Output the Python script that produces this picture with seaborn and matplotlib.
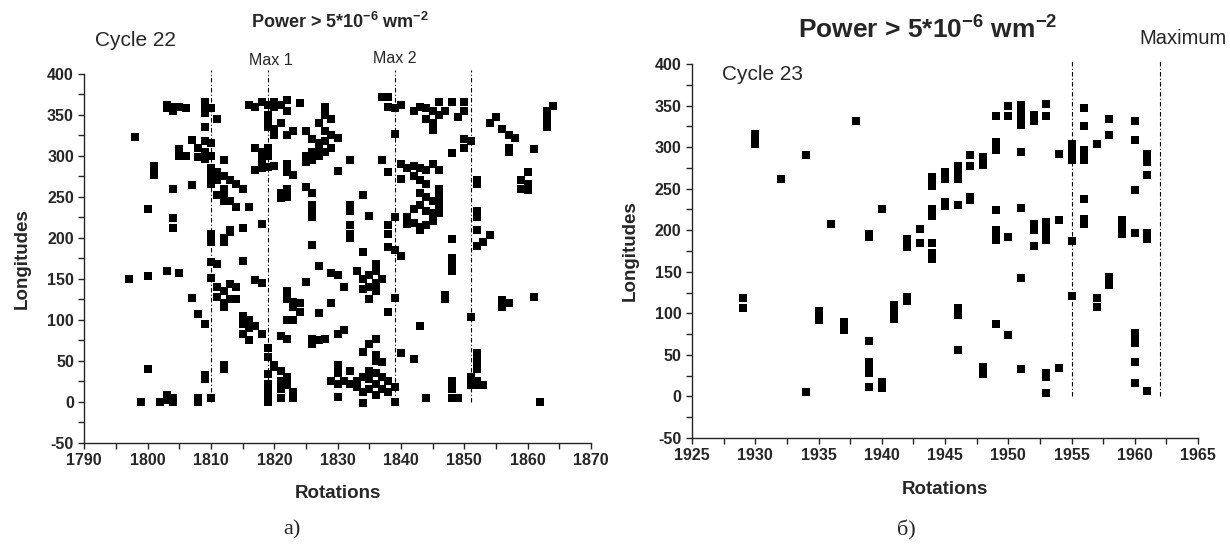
import numpy as np
import pandas as pd
import matplotlib
matplotlib.use('Agg')
import matplotlib.pyplot as plt
import seaborn as sns
from matplotlib.ticker import MultipleLocator

# Cycle 22: rotation numbers and the longitudes of the active points in each rotation
rot22 = [1797, 1798, 1799, 1800, 1801, 1802, 1803, 1804, 1805, 1806,
         1807, 1808, 1809, 1810, 1811, 1812, 1813, 1814, 1815, 1816,
         1817, 1818, 1819, 1820, 1821, 1822, 1823, 1824, 1825, 1826,
         1827, 1828, 1829, 1830, 1831, 1832, 1833, 1834, 1835, 1836,
         1837, 1838, 1839, 1840, 1841, 1842, 1843, 1844, 1845, 1846,
         1847, 1848, 1849, 1850, 1851, 1852, 1853, 1854, 1855, 1856,
         1857, 1858, 1859, 1860, 1861, 1862, 1863, 1864]
lon22 = [[150], [323], [0], [235, 153, 40], [287, 280, 276], [0],
         [362, 358, 160, 8, 2], [360, 355, 260, 224, 212, 5, 0],
         [360, 308, 300, 157], [358, 300], [319, 264, 127],
         [310, 298, 107, 5, 0],
         [365, 357, 352, 335, 318, 305, 296, 95, 32, 28],
         [358, 315, 300, 285, 275, 265, 205, 200, 195, 170, 151, 5],
         [345, 280, 270, 252, 168, 140, 128],
         [295, 275, 260, 250, 245, 200, 195, 135, 120, 115, 45, 40],
         [270, 245, 210, 207, 143, 125], [265, 238, 140, 125],
         [260, 212, 171, 105, 95, 82], [362, 238, 100, 90, 75],
         [360, 310, 282, 148, 92], [365, 305, 300, 290, 285, 217, 145, 83],
         [362, 350, 340, 335, 310, 300, 286, 65, 55, 34, 22, 15, 8, 0],
         [365, 360, 332, 325, 287, 45, 42],
         [362, 340, 254, 248, 80, 38, 25, 15, 5],
         [368, 355, 325, 290, 280, 260, 250, 135, 125, 100, 77, 30, 20],
         [330, 276, 122, 115, 100, 12, 5], [364, 120, 110],
         [330, 300, 292, 262, 146],
         [320, 305, 295, 255, 240, 230, 225, 191, 77, 70],
         [340, 315, 310, 300, 165, 108, 75], [360, 350, 330, 318, 305, 77],
         [345, 325, 310, 157, 120, 25], [322, 281, 155, 82, 45, 35, 22, 6],
         [140, 87, 25], [295, 240, 232, 215, 205, 200, 38, 22],
         [160, 25, 18], [252, 183, 150, 138, 61, 30, 12, -2],
         [226, 155, 140, 125, 70, 38, 28, 15],
         [168, 160, 145, 135, 77, 57, 50, 35, 22, 8],
         [372, 295, 150, 49, 30, 15],
         [372, 360, 280, 215, 205, 189, 110, 25, 12],
         [358, 327, 225, 185, 126, 18, 0], [362, 290, 272, 178, 60],
         [285, 225, 217], [355, 288, 275, 235, 218, 52],
         [360, 285, 270, 255, 240, 213, 209, 92],
         [358, 345, 282, 265, 250, 232, 215, 4],
         [355, 340, 331, 290, 245, 230, 220],
         [365, 350, 282, 260, 250, 240, 230], [355, 130, 125],
         [365, 303, 199, 175, 168, 160, 25, 15, 5], [347, 5],
         [365, 355, 320, 310], [318, 103, 30, 20],
         [270, 265, 232, 225, 209, 190, 60, 50, 40, 25, 20],
         [195, 20], [340, 203], [347], [333, 124, 115],
         [325, 310, 305, 120], [322], [270, 260], [280, 265, 258],
         [308, 128], [0], [355, 345, 335], [361]]

# Cycle 23
rot23 = [1929, 1930, 1932, 1934, 1935, 1936, 1937, 1938, 1939, 1940,
         1941, 1942, 1943, 1944, 1945, 1946, 1947, 1948, 1949, 1950,
         1951, 1952, 1953, 1954, 1955, 1956, 1957, 1958, 1959, 1960, 1961]
lon23 = [[118, 106], [316, 310, 304], [262], [291, 5], [103, 97, 92],
         [208], [89, 84, 80], [331], [196, 192, 67, 42, 35, 28, 11],
         [226, 17, 10], [110, 103, 93], [190, 185, 180, 120, 115],
         [201, 185], [264, 258, 253, 226, 217, 185, 172, 165],
         [270, 262, 234, 229], [277, 270, 262, 230, 106, 98, 56],
         [290, 277, 240, 236], [288, 278, 36, 27],
         [338, 306, 296, 224, 200, 194, 188, 87], [349, 338, 192, 74],
         [351, 341, 334, 327, 294, 227, 142, 33], [339, 331, 208, 200, 181],
         [352, 337, 210, 204, 198, 188, 28, 23, 4], [292, 212, 34],
         [304, 294, 284, 187, 121],
         [347, 326, 296, 290, 284, 237, 214, 208], [304, 118, 108],
         [334, 315, 144, 134], [212, 204, 196],
         [331, 308, 248, 197, 76, 70, 64, 42, 16],
         [292, 282, 267, 197, 190, 6]]

max_lines22 = [1810, 1819, 1839, 1851]
max_lines23 = [1955, 1962]

xticks22 = [1790, 1800, 1810, 1820, 1830, 1840, 1850, 1860, 1870]
xticks23 = [1925, 1930, 1935, 1940, 1945, 1950, 1955, 1960, 1965]
yticks = [-50, 0, 50, 100, 150, 200, 250, 300, 350, 400]

sns.set_style('ticks')
plt.rcParams['font.family'] = ['Liberation Sans', 'DejaVu Sans']
plt.rcParams['mathtext.fontset'] = 'custom'
plt.rcParams['mathtext.rm'] = 'Liberation Sans'
plt.rcParams['mathtext.bf'] = 'Liberation Sans:bold'
plt.rcParams['mathtext.default'] = 'bf'
plt.rcParams['axes.linewidth'] = 1.0
plt.rcParams['axes.unicode_minus'] = False

W, H = 1230, 555
fig = plt.figure(figsize=(W / 100, H / 100), dpi=100)


def px(x, y):
    return x / W, 1 - y / H


def make_panel(rect, rots, lons, lines, xticks, xminor, msize):
    ax = fig.add_axes(rect)
    df = pd.DataFrame({'rotation': rots, 'longitude': lons}).explode('longitude')
    df['longitude'] = df['longitude'].astype(float)
    sns.scatterplot(data=df, x='rotation', y='longitude', marker='s', color='black',
                    s=msize, linewidth=0, ax=ax, legend=False, clip_on=False)
    for r in lines:
        ax.plot([r, r], [0, 404], color='black', lw=0.8, ls=(0, (4, 2, 1, 2)),
                clip_on=False)
    ax.set_xlim(xticks[0], xticks[-1])
    ax.set_ylim(-50, 400)
    ax.set_xticks(xticks)
    ax.set_yticks(yticks)
    ax.xaxis.set_minor_locator(MultipleLocator(xminor))
    ax.yaxis.set_minor_locator(MultipleLocator(25))
    ax.tick_params(which='both', direction='out', length=4.5, width=1, pad=3,
                   labelsize=11.5)
    for lab in ax.get_xticklabels() + ax.get_yticklabels():
        lab.set_fontweight('bold')
    sns.despine(ax=ax)
    ax.set_xlabel('Rotations', fontsize=13.5, fontweight='bold')
    ax.set_ylabel('Longitudes', fontsize=13.5, fontweight='bold')
    ax.xaxis.set_label_coords(0.5, -0.115)
    ax.yaxis.set_label_coords(-0.105, 0.5)
    return ax


ax1 = make_panel([84.3 / W, 1 - 442.7 / H, 506.7 / W, 369 / H],
                 rot22, lon22, max_lines22, xticks22, 5, 32)
ax2 = make_panel([692 / W, 1 - 438 / H, 506 / W, 374 / H],
                 rot23, lon23, max_lines23, xticks23, 2.5, 34)

ax1.text(1819.5, 416, 'Max 1', ha='center', va='center', fontsize=11.5)
ax1.text(1839, 419, 'Max 2', ha='center', va='center', fontsize=11.5)

fig.text(*px(340, 22), r'Power > 5*10$^{-6}$ wm$^{-2}$', ha='center', va='center',
         fontsize=13, fontweight='bold')
fig.text(*px(95, 40), 'Cycle 22', ha='left', va='center', fontsize=15)
fig.text(*px(928, 30), r'Power > 5*10$^{-6}$ wm$^{-2}$', ha='center', va='center',
         fontsize=19, fontweight='bold')
fig.text(*px(1183, 38), 'Maximum', ha='center', va='center', fontsize=14.5)
fig.text(*px(722, 75), 'Cycle 23', ha='left', va='center', fontsize=15)

fig.text(*px(292, 530), 'a)', ha='center', va='center', fontsize=16,
         family='Liberation Serif')
fig.text(*px(906, 530), 'б)', ha='center', va='center', fontsize=16,
         family='Liberation Serif')

fig.savefig('out.png', dpi=100, facecolor='white')
